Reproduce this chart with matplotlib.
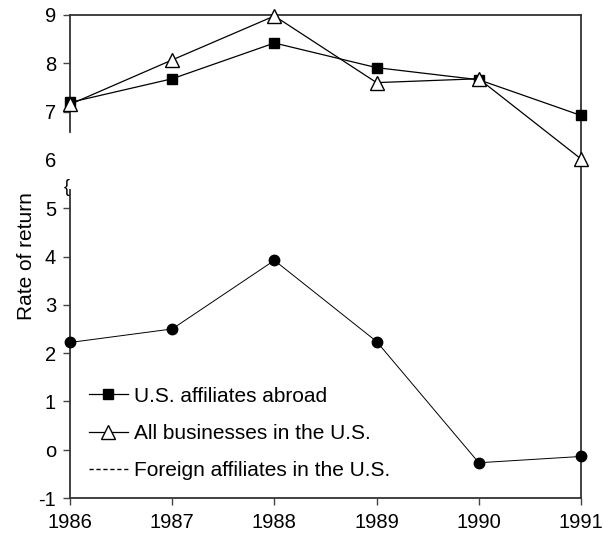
import matplotlib
matplotlib.use('Agg')
import matplotlib.pyplot as plt
from matplotlib.lines import Line2D

plt.rcParams.update({
    'font.family': ['Liberation Sans', 'DejaVu Sans'],
    'font.size': 14,
})

years = [1986, 1987, 1988, 1989, 1990, 1991]
us_abroad = [7.19, 7.68, 8.42, 7.91, 7.66, 6.92]
all_business = [7.15, 8.07, 8.98, 7.60, 7.68, 6.02]
foreign_in_us = [2.22, 2.50, 3.92, 2.24, -0.27, -0.14]

ytick_vals = [-1, 0, 1, 2, 3, 4, 5, 6, 7, 8, 9]
ytick_labels = ['-1', 'o', '1', '2', '3', '4', '5', '6', '7', '8', '9']

fig = plt.figure(figsize=(6.03, 5.52), dpi=100)
ax = fig.add_axes([70 / 603, 1 - 498 / 552, 511 / 603, 483 / 552])

ax.plot(years, us_abroad, color='black', lw=0.9, marker='s', ms=7.5,
        mfc='black', mec='black', zorder=3, clip_on=False)
ax.plot(years, all_business, color='black', lw=0.9, marker='^', ms=10,
        mfc='white', mec='black', mew=1.0, zorder=4, clip_on=False)
ax.plot(years, foreign_in_us, color='black', lw=0.7, marker='o', ms=7.5,
        mfc='black', mec='black', zorder=3, clip_on=False)

ax.set_xlim(1986, 1991)
ax.set_ylim(-1, 9)
ax.set_xticks(years)
ax.set_yticks(ytick_vals)
ax.set_yticklabels(ytick_labels)
ax.tick_params(axis='both', direction='out', length=5, width=1.0,
               labelsize=14.5, color='#444444')
ax.tick_params(axis='x', pad=6)
ax.tick_params(axis='y', pad=5)
ax.yaxis.get_major_ticks()[7].tick1line.set_visible(False)

for side in ['top', 'right', 'bottom', 'left']:
    ax.spines[side].set_linewidth(1.3)
    ax.spines[side].set_color('#333333')

# broken left axis: lower part via spine bounds, upper part drawn separately
ax.spines['left'].set_bounds(-1, 5.38)
ax.axvline(1986, ymin=(6.58 + 1) / 10, ymax=1.0, color='#333333', lw=1.3,
           clip_on=False)
ax.text(1985.97, 5.42, '{', ha='center', va='center', fontsize=13)

ax.set_ylabel('Rate of return', fontsize=15, labelpad=2)

handles = [
    Line2D([], [], color='black', lw=0.9, marker='s', ms=7.5),
    Line2D([], [], color='black', lw=0.9, marker='^', ms=10, mfc='white'),
    Line2D([], [], color='black', lw=1.0, ls=(0, (3, 2))),
]
labels = ['U.S. affiliates abroad', 'All businesses in the U.S.',
          'Foreign affiliates in the U.S.']
ax.legend(handles, labels, loc='upper left', bbox_to_anchor=(0.016, 0.252),
          frameon=False, handlelength=1.9, handletextpad=0.3,
          labelspacing=0.88, fontsize=15, borderpad=0)

fig.savefig('out.png', dpi=100)
